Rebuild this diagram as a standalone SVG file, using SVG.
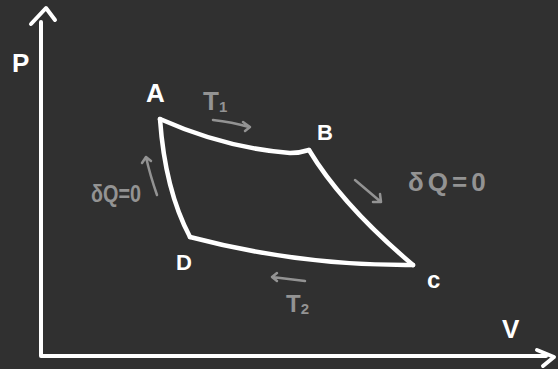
<svg xmlns="http://www.w3.org/2000/svg" width="558" height="369" viewBox="0 0 558 369">
<style>
.ax{fill:none;stroke:#ffffff;stroke-width:4;stroke-linecap:round;stroke-linejoin:round}
.cy{fill:none;stroke:#ffffff;stroke-width:4.5;stroke-linecap:round;stroke-linejoin:round}
.gr{fill:none;stroke:#939393;stroke-width:2.5;stroke-linecap:round;stroke-linejoin:round}
.lw{font-family:"Liberation Sans",Arial,sans-serif;font-weight:bold;fill:#ffffff}
.lg{font-family:"Liberation Sans",Arial,sans-serif;font-weight:bold;fill:#939393}
</style>
<rect width="558" height="369" fill="#303030"/>
<g id="axes">
<path class="ax" d="M41,22 L41,356 L546,356"/>
<path class="ax" d="M31,24 L46,8 L55,20"/>
<path class="ax" d="M537,350 L554,357 L543,366"/>
<text class="lw" x="12" y="72" font-size="26">P</text>
<text class="lw" x="502" y="338" font-size="26">V</text>
</g>
<g id="connectors">
<path class="cy" d="M160,119 Q225,148 290,153 Q300,153 309,150"/>
<path class="cy" d="M309,150 Q342,205 413,265"/>
<path class="cy" d="M413,265 Q300,266 190,237"/>
<path class="cy" d="M190,237 Q165,190 160,119"/>
<path class="gr" d="M213,120 Q232,122 249,127 M243,122 L250,127 L245,131"/>
<path class="gr" d="M157,195 Q150,175 146,157 M142,163 L146,157 L151,161"/>
<path class="gr" d="M355,180 L381,202 M373,202 L381,202 L380,194"/>
<path class="gr" d="M305,281 L272,277 M277,273 L272,277 L277,281"/>
</g>
<g id="node-A"><text class="lw" x="146" y="102" font-size="26">A</text></g>
<g id="node-B"><text class="lw" x="317" y="140" font-size="22">B</text></g>
<g id="node-C"><text class="lw" x="427" y="288" font-size="24">c</text></g>
<g id="node-D"><text class="lw" x="176" y="270" font-size="22">D</text></g>
<g id="label-T1"><text class="lg" x="203" y="110" font-size="26">T<tspan font-size="15" dy="2">1</tspan></text></g>
<g id="label-T2"><text class="lg" x="286" y="312" font-size="24">T<tspan font-size="15" dy="2">2</tspan></text></g>
<g id="label-dQ-left"><text class="lg" x="91" y="202" font-size="23" textLength="50" lengthAdjust="spacingAndGlyphs">δQ=0</text></g>
<g id="label-dQ-right"><text class="lg" x="408" y="191" font-size="26" letter-spacing="4">δQ=0</text></g>
</svg>
